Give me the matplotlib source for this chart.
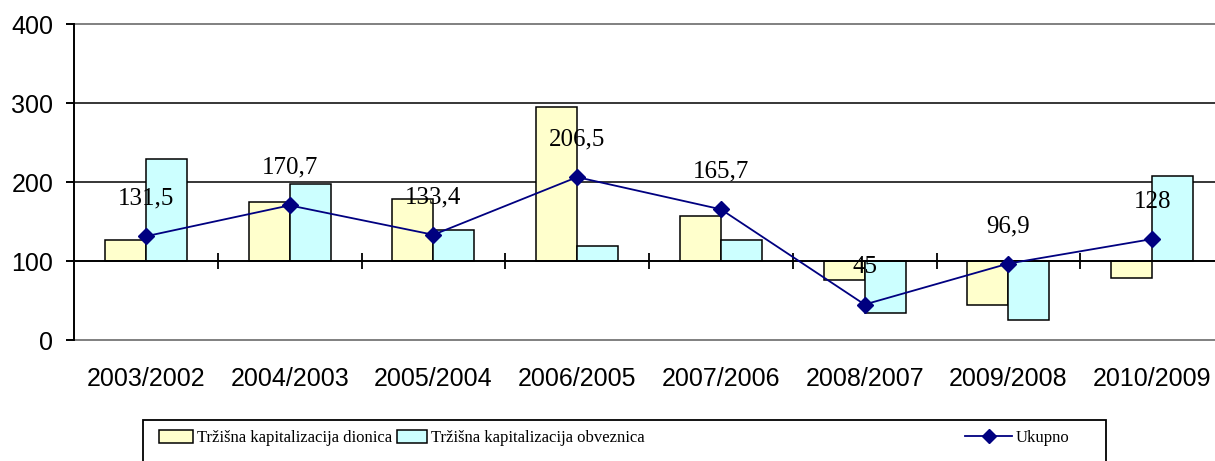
import matplotlib
matplotlib.use('Agg')
import matplotlib.pyplot as plt
from matplotlib.patches import Patch, Rectangle
from matplotlib.lines import Line2D

# indeksi kretanja tržišne kapitalizacije (prethodna godina = 100)
godine = ['2003/2002', '2004/2003', '2005/2004', '2006/2005',
          '2007/2006', '2008/2007', '2009/2008', '2010/2009']
dionice = [127, 175, 179, 296, 157, 76, 44, 79]
obveznice = [230, 198, 139, 119, 127, 34, 25, 208]
ukupno = [131.5, 170.7, 133.4, 206.5, 165.7, 45, 96.9, 128]

baza = 100
zuta = '#FFFFCC'
plava = '#CCFFFF'
tamno_plava = '#000080'

sans = ['Liberation Sans', 'DejaVu Sans']
serif = ['Liberation Serif', 'DejaVu Serif']

fig = plt.figure(figsize=(12.15, 4.61), dpi=100)
ax = fig.add_axes([74 / 1215, 121 / 461, 1150 / 1215, 315.5 / 461])

x = list(range(len(godine)))
sirina = 0.285

# stupci polaze od baze 100
ax.bar([i - sirina / 2 for i in x], [v - baza for v in dionice], sirina,
       bottom=baza, color=zuta, edgecolor='black', linewidth=1.1, zorder=3)
ax.bar([i + sirina / 2 for i in x], [v - baza for v in obveznice], sirina,
       bottom=baza, color=plava, edgecolor='black', linewidth=1.1, zorder=3)

ax.plot(x, ukupno, color=tamno_plava, linewidth=1.3, marker='D',
        markersize=8, zorder=5)

for i, v in zip(x, ukupno):
    ax.annotate(f'{v:g}'.replace('.', ','), (i, v), xytext=(0, 27),
                textcoords='offset points', ha='center', va='center',
                fontsize=18, family=serif, zorder=6)

ax.set_xlim(-0.5, 7.5)
ax.set_ylim(0, 400)

# mreža: 200 i 300 crne, rubne linije sive
for y in (200, 300):
    ax.axhline(y, color='black', linewidth=1.1, zorder=1)
ax.axhline(0, color='#808080', linewidth=1.4, zorder=1, clip_on=False)
ax.axhline(400, color='#808080', linewidth=1.4, zorder=1, clip_on=False)

for s in ('top', 'right'):
    ax.spines[s].set_visible(False)
ax.spines['left'].set_linewidth(1.4)
ax.spines['bottom'].set_position(('data', baza))
ax.spines['bottom'].set_linewidth(1.4)
ax.spines['bottom'].set_zorder(4)

ax.set_yticks([0, 100, 200, 300, 400])
ax.tick_params(axis='y', direction='out', length=6, width=1.4, pad=9,
               labelsize=18)
ax.set_xticks(x)
ax.set_xticklabels(godine)
ax.set_xticks([i + 0.5 for i in x[:-1]], minor=True)
ax.tick_params(axis='x', which='major', length=0, pad=76, labelsize=18)
ax.tick_params(axis='x', which='minor', direction='inout', length=11,
               width=1.3)
for lab in ax.get_xticklabels() + ax.get_yticklabels():
    lab.set_family(sans)

# okvir legende
fig.add_artist(Rectangle((143 / 1215, -0.05), 963 / 1215, 0.05 + 41 / 461,
                         transform=fig.transFigure, facecolor='white',
                         edgecolor='black', linewidth=1.3, clip_on=False))

fs = 12
px = fs * 100 / 72
stavke = [
    (Patch(facecolor=zuta, edgecolor='black', linewidth=1.1),
     'Tržišna kapitalizacija dionica', 159, 34),
    (Patch(facecolor=plava, edgecolor='black', linewidth=1.1),
     'Tržišna kapitalizacija obveznica', 397, 30),
    (Line2D([], [], color=tamno_plava, linewidth=1.3, marker='D',
            markersize=7), 'Ukupno', 965, 47),
]
for ruc, tekst, x0, dulj in stavke:
    fig.legend([ruc], [tekst], loc='center left',
               bbox_to_anchor=(x0 / 1215, 23 / 461), frameon=False,
               borderpad=0, borderaxespad=0, handlelength=dulj / px,
               handleheight=13 / px, handletextpad=4 / px,
               prop={'family': serif, 'size': fs})

fig.savefig('out.png', dpi=100)
